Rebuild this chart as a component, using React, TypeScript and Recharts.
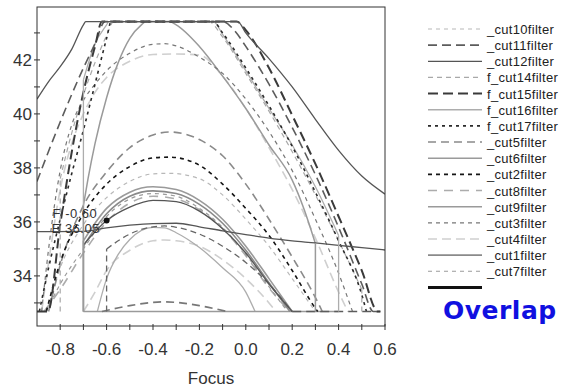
import { LineChart, Line, XAxis, YAxis, ReferenceDot } from "recharts";

// focus (x) / energy (y) samples; 43.42 and 32.68 are the clip levels
const cut12 = [[-0.9, 40.55], [-0.85, 41.2], [-0.8, 41.75], [-0.75, 42.4], [-0.7, 43.3], [-0.69, 43.42], [-0.035, 43.42], [0, 43.0], [0.1, 42.05], [0.2, 41.0], [0.3, 39.8], [0.4, 38.65], [0.5, 37.7], [0.6, 37.03]];
const crossLine = [[-0.9, 35.64], [-0.7, 35.65], [-0.6, 35.78], [-0.5, 35.88], [-0.4, 35.94], [-0.3, 35.95], [-0.2, 35.82], [-0.1, 35.67], [0, 35.53], [0.1, 35.4], [0.2, 35.3], [0.3, 35.22], [0.4, 35.13], [0.5, 35.05], [0.6, 34.96]];
const fcut15 = [[-0.9, 32.68], [-0.853, 32.68], [-0.8, 35.9], [-0.75, 38.6], [-0.7, 40.8], [-0.65, 42.5], [-0.62, 43.42], [-0.04, 43.42], [0, 43.1], [0.1, 41.7], [0.2, 39.95], [0.3, 38.15], [0.4, 36.2], [0.5, 34.2], [0.57, 32.68], [0.58, 32.68]];
const cut11 = [[-0.9, 37.5], [-0.8, 39.7], [-0.7, 41.7], [-0.65, 42.6], [-0.607, 43.42], [-0.1, 43.42], [-0.05, 43.1], [0, 42.5], [0.1, 41.1], [0.2, 39.5], [0.3, 37.75], [0.4, 35.8], [0.5, 33.7], [0.55, 32.68], [0.58, 32.68]];
const fcut17 = [[-0.89, 32.68], [-0.85, 34.3], [-0.8, 36.1], [-0.75, 37.8], [-0.7, 39.4], [-0.65, 41.1], [-0.6, 42.8], [-0.58, 43.42], [-0.14, 43.42], [-0.1, 43.0], [0, 41.7], [0.1, 40.3], [0.2, 38.8], [0.3, 37.1], [0.4, 35.3], [0.5, 33.3], [0.52, 32.68]];
const fcut16 = [[-0.7, 41.26], [-0.65, 42.6], [-0.6, 43.3], [-0.59, 43.42], [-0.14, 43.42], [-0.1, 42.95], [0, 41.6], [0.1, 40.2], [0.2, 38.85], [0.3, 37.3], [0.4, 35.5]];
const fcut14 = [[-0.8, 37.6], [-0.75, 39.3], [-0.7, 40.7], [-0.65, 41.9], [-0.6, 42.9], [-0.57, 43.42], [-0.16, 43.42], [-0.1, 42.85], [0, 41.5], [0.1, 40.1], [0.2, 38.6], [0.3, 37.0], [0.4, 35.3], [0.5, 33.5]];
const cut9 = [[-0.7, 36.6], [-0.68, 37.6], [-0.65, 38.9], [-0.6, 40.6], [-0.55, 41.9], [-0.5, 42.8], [-0.45, 43.3], [-0.43, 43.42], [-0.33, 43.42], [-0.3, 43.3], [-0.2, 42.5], [-0.1, 41.4], [0, 40.2], [0.1, 38.85], [0.2, 37.55], [0.25, 36.5], [0.3, 35.2]];
const cut3 = [[-0.88, 32.68], [-0.85, 35.0], [-0.8, 37.9], [-0.75, 39.6], [-0.7, 40.5], [-0.65, 41.1], [-0.6, 41.6], [-0.5, 42.25], [-0.4, 42.58], [-0.35, 42.6], [-0.3, 42.52], [-0.2, 42.1], [-0.1, 41.5], [0, 40.55], [0.1, 39.35], [0.2, 37.9], [0.3, 36.1], [0.4, 34.1], [0.46, 32.68]];
const cut4 = [[-0.88, 32.68], [-0.85, 34.5], [-0.8, 37.2], [-0.75, 38.9], [-0.7, 40.0], [-0.65, 40.8], [-0.6, 41.35], [-0.5, 41.95], [-0.4, 42.2], [-0.3, 42.22], [-0.2, 42.18], [-0.1, 41.4], [0, 40.2], [0.1, 38.75], [0.2, 37.2], [0.3, 35.4], [0.4, 33.4], [0.44, 32.68]];
const cut5 = [[-0.85, 32.68], [-0.8, 34.4], [-0.7, 36.6], [-0.6, 37.85], [-0.5, 38.75], [-0.4, 39.22], [-0.33, 39.33], [-0.2, 39.05], [-0.1, 38.45], [0, 37.4], [0.1, 36.1], [0.2, 34.7], [0.3, 33.2], [0.33, 32.68]];
const cut2 = [[-0.86, 32.68], [-0.8, 34.5], [-0.7, 36.3], [-0.6, 37.4], [-0.5, 38.05], [-0.4, 38.37], [-0.33, 38.4], [-0.2, 38.1], [-0.1, 37.4], [0, 36.5], [0.1, 35.5], [0.2, 34.2], [0.3, 32.8], [0.31, 32.68]];
const cut10 = [[-0.86, 32.68], [-0.8, 34.3], [-0.7, 35.9], [-0.6, 36.9], [-0.5, 37.5], [-0.4, 37.78], [-0.33, 37.8], [-0.2, 37.6], [-0.1, 37.0], [0, 36.1], [0.1, 35.1], [0.2, 33.9], [0.3, 32.68]];
const cut6 = [[-0.7, 35.3], [-0.6, 36.5], [-0.5, 37.1], [-0.4, 37.3], [-0.3, 37.2], [-0.2, 36.8], [-0.1, 36.1], [0, 35.1], [0.1, 33.9], [0.2, 32.68]];
const cut1 = [[-0.7, 35.1], [-0.6, 36.3], [-0.5, 36.95], [-0.4, 37.15], [-0.3, 37.05], [-0.2, 36.65], [-0.1, 35.95], [0, 34.95], [0.1, 33.75], [0.19, 32.68]];
const cut7 = [[-0.86, 32.68], [-0.8, 33.7], [-0.7, 35.0], [-0.6, 36.2], [-0.5, 36.85], [-0.4, 37.05], [-0.3, 36.95], [-0.2, 36.5], [-0.1, 35.8], [0, 34.8], [0.1, 33.6], [0.18, 32.68]];
const cut8 = [[-0.87, 32.68], [-0.8, 33.5], [-0.7, 34.85], [-0.6, 36.0], [-0.5, 36.7], [-0.4, 36.95], [-0.3, 36.85], [-0.2, 36.45], [-0.1, 35.75], [0, 34.75], [0.1, 33.55], [0.19, 32.68]];
const darkInner = [[-0.7, 35.15], [-0.6, 36.05], [-0.5, 36.55], [-0.4, 36.8], [-0.3, 36.75], [-0.2, 36.4], [-0.1, 35.75], [0, 34.85], [0.1, 33.7], [0.2, 32.68]];
const low1 = [[-0.6, 35.0], [-0.5, 35.55], [-0.4, 35.82], [-0.35, 35.85], [-0.3, 35.8], [-0.2, 35.55], [-0.1, 35.1], [0, 34.5], [0.1, 33.7], [0.2, 32.68]];
const low2 = [[-0.7, 32.68], [-0.65, 33.4], [-0.6, 34.2], [-0.5, 34.95], [-0.4, 35.3], [-0.35, 35.33], [-0.3, 35.3], [-0.2, 35.1], [-0.1, 34.6], [0, 33.9], [0.1, 33.0], [0.13, 32.68]];
const low3 = [[-0.64, 32.68], [-0.6, 33.9], [-0.55, 34.8], [-0.5, 35.35], [-0.4, 35.8], [-0.35, 35.78], [-0.3, 35.6], [-0.2, 35.05], [-0.1, 34.3], [0, 33.4], [0.04, 32.68]];
const low4 = [[-0.62, 32.68], [-0.5, 32.9], [-0.4, 33.02], [-0.35, 33.04], [-0.3, 33.02], [-0.2, 32.9], [-0.08, 32.68]];
const floorSolid = [[-0.7, 32.68], [0.4, 32.68]];
const floorDash = [[0.2, 32.68], [0.58, 32.68]];

// vertical drops to the floor: [focus, top energy]
const dropsF16 = [[-0.7, 41.26], [0.4, 35.5]];
const dropsF14 = [[-0.8, 37.6], [0.5, 33.5]];
const dropsCut9 = [[-0.7, 36.6], [0.3, 35.2]];
const dropsCut6 = [[-0.7, 35.3]];
const dropsLow1 = [[-0.6, 35.0]];
const FLOOR = 32.68;

const legendNames = ["_cut10filter", "_cut11filter", "_cut12filter", "f_cut14filter", "f_cut15filter", "f_cut16filter", "f_cut17filter", "_cut5filter", "_cut6filter", "_cut2filter", "_cut8filter", "_cut9filter", "_cut3filter", "_cut4filter", "_cut1filter", "_cut7filter", ""];
const legendKeys = ["cut10", "cut11", "cut12", "f14", "f15", "f16", "f17", "cut5", "cut6", "cut2", "cut8", "cut9", "cut3", "cut4", "cut1", "cut7", "overlap"];

const xTicks = [-0.9, -0.8, -0.7, -0.6, -0.5, -0.4, -0.3, -0.2, -0.1, 0, 0.1, 0.2, 0.3, 0.4, 0.5, 0.6];
const yTicks = [33, 34, 35, 36, 37, 38, 39, 40, 41, 42, 43];
const pickF = -0.6;
const pickE = 36.05;

const STY: Record<string, { c: string; w: number; d?: string }> = {
  cut10: { c: "#b8b8b8", w: 1.2, d: "4 4" },
  cut11: { c: "#5c5c5c", w: 1.6, d: "9 5" },
  cut12: { c: "#555", w: 1.3 },
  f14: { c: "#a8a8a8", w: 1.2, d: "5 4" },
  f15: { c: "#3a3a3a", w: 2, d: "10 5" },
  f16: { c: "#adadad", w: 1.3 },
  f17: { c: "#2a2a2a", w: 1.6, d: "3 4" },
  cut5: { c: "#8a8a8a", w: 1.6, d: "8 5" },
  cut6: { c: "#9a9a9a", w: 1.6 },
  cut2: { c: "#151515", w: 1.6, d: "4 4" },
  cut8: { c: "#acacac", w: 1.6, d: "9 7" },
  cut9: { c: "#9a9a9a", w: 1.5 },
  cut3: { c: "#777", w: 1.2, d: "4 4" },
  cut4: { c: "#cfcfcf", w: 1.6, d: "9 5" },
  cut1: { c: "#8a8a8a", w: 1.6 },
  cut7: { c: "#9a9a9a", w: 1.2, d: "4 4" },
  low1: { c: "#666", w: 1.3, d: "6 4" },
  low4: { c: "#777", w: 1.6, d: "8 5" },
  overlap: { c: "#111", w: 3 },
};

const series: [number[][], string][] = [
  [cut4, "cut4"], [cut10, "cut10"], [low2, "cut4"], [fcut14, "f14"], [cut8, "cut8"], [cut7, "cut7"],
  [low3, "f16"], [fcut16, "f16"], [floorSolid, "cut6"], [cut6, "cut6"], [cut1, "cut1"], [cut9, "cut9"],
  [cut3, "cut3"], [cut5, "cut5"], [low4, "low4"], [low1, "low1"], [darkInner, "cut12"], [cut2, "cut2"],
  [fcut17, "f17"], [floorDash, "cut11"], [cut11, "cut11"], [fcut15, "f15"], [cut12, "cut12"], [crossLine, "cut12"],
];
const drops: [number[][], string][] = [[dropsF14, "f14"], [dropsF16, "f16"], [dropsCut9, "cut9"], [dropsCut6, "cut6"], [dropsLow1, "low1"]];

const FONT = "'Liberation Sans', Arial, sans-serif";

const XTick = (props: any) => {
  const { x, payload } = props;
  const v = payload.value;
  const k = Math.round(v * 10);
  const show = k % 2 === 0 && k >= -8;
  return (
    <g>
      {k > -9 && <line x1={x} x2={x} y1={324} y2={330} stroke="#333" />}
      {show && (
        <text x={x} y={355} textAnchor="middle" fontSize={17} fontFamily={FONT} fill="#333">
          {(Math.abs(v) < 1e-9 ? 0 : v).toFixed(1)}
        </text>
      )}
    </g>
  );
};

const YTick = (props: any) => {
  const { y, payload } = props;
  const v = payload.value;
  return (
    <g>
      <line x1={34} x2={40} y1={y} y2={y} stroke="#333" />
      {v % 2 === 0 && (
        <text x={32} y={y + 6} textAnchor="end" fontSize={17} fontFamily={FONT} fill="#333">
          {v}
        </text>
      )}
    </g>
  );
};

const PickLabel = (props: any) => {
  const vb = props.viewBox || {};
  const cx = vb.x + (vb.width || 0) / 2;
  const cy = vb.y + (vb.height || 0) / 2;
  return (
    <g fontFamily={FONT} fontSize={13} fill="#333" style={{ letterSpacing: 0.5 }}>
      <text x={cx - 54} y={cy - 3}>{`F ${pickF.toFixed(2)}`}</text>
      <text x={cx - 55} y={cy + 12}>{`E ${pickE.toFixed(2)}`}</text>
    </g>
  );
};

const toPts = (a: number[][]) => a.map(([f, e]) => ({ f, e }));

export default function App() {
  return (
    <div style={{ position: "absolute", left: 0, top: 0, width: 565, height: 390, background: "#fff" }}>
      <LineChart width={565} height={390} margin={{ top: 7, right: 180, bottom: 0, left: 0 }}>
        <XAxis
          dataKey="f"
          type="number"
          domain={[-0.9, 0.6]}
          ticks={xTicks}
          interval={0}
          allowDataOverflow
          axisLine={false}
          tickLine={false}
          height={64}
          tick={<XTick />}
        />
        <YAxis
          type="number"
          domain={[32.145, 43.96]}
          ticks={yTicks}
          interval={0}
          allowDataOverflow
          axisLine={false}
          tickLine={false}
          width={37}
          tick={<YTick />}
        />
        {series.map(([pts, k], i) => (
          <Line
            key={"s" + i}
            data={toPts(pts)}
            dataKey="e"
            type="monotoneX"
            dot={false}
            activeDot={false}
            stroke={STY[k].c}
            strokeWidth={STY[k].w}
            strokeDasharray={STY[k].d}
            isAnimationActive={false}
            legendType="none"
          />
        ))}
        {drops.flatMap(([list, k], i) =>
          list.map(([f, top], j) => (
            <Line
              key={"d" + i + "-" + j}
              data={[{ f, e: FLOOR }, { f, e: top }]}
              dataKey="e"
              type="linear"
              dot={false}
              activeDot={false}
              stroke={STY[k].c}
              strokeWidth={STY[k].w}
              strokeDasharray={STY[k].d}
              isAnimationActive={false}
              legendType="none"
            />
          ))
        )}
        <ReferenceDot x={pickF} y={pickE} r={3} fill="#111" stroke="none" label={<PickLabel />} />
      </LineChart>
      <svg width={565} height={390} style={{ position: "absolute", left: 0, top: 0, pointerEvents: "none" }}>
        <rect x={37} y={7} width={348} height={319} fill="none" stroke="#333" strokeWidth={1} />
        <text x={211} y={384} textAnchor="middle" fontSize={17} fontFamily={FONT} fill="#333">Focus</text>
        {legendNames.map((name, i) => {
          const y = 29 + i * 16.15;
          const st = STY[legendKeys[i]];
          return (
            <g key={name + i}>
              <line x1={428} x2={482} y1={y} y2={y} stroke={st.c} strokeWidth={st.w} strokeDasharray={st.d} />
              <text x={487} y={y + 5} fontSize={13} fontFamily={FONT} fill="#222" style={{ letterSpacing: 0.3 }}>{name}</text>
            </g>
          );
        })}
        <text x={443} y={319} fontSize={25} fontWeight="bold" fontFamily="'DejaVu Sans', Verdana, sans-serif" fill="#1010e0" style={{ letterSpacing: 0.5 }}>Overlap</text>
      </svg>
    </div>
  );
}
